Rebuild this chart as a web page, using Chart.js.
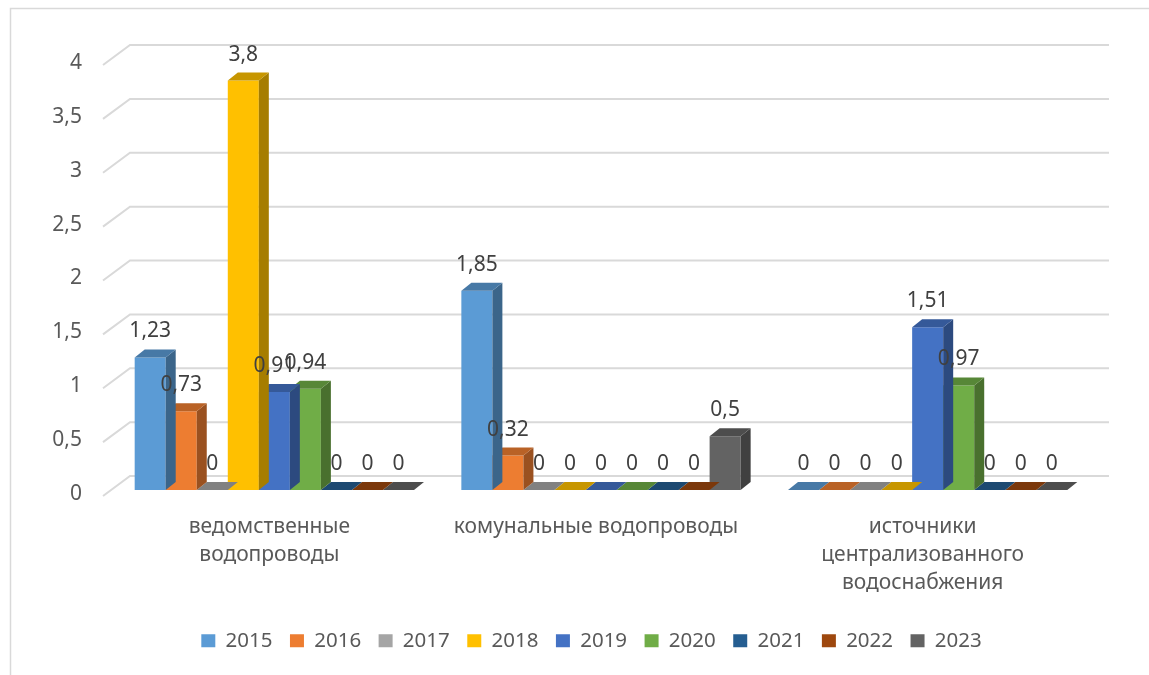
<!DOCTYPE html>
<html>
<head>
<meta charset="utf-8">
<script src="https://cdn.jsdelivr.net/npm/chart.js@4.4.1/dist/chart.umd.min.js"></script>
<style>
  html, body { margin: 0; padding: 0; background: #fff; }
</style>
</head>
<body>
<canvas id="myChart" width="1149" height="675"></canvas>
<script>
// categories and values
const categories = [
  ["ведомственные", "водопроводы"],
  "комунальные водопроводы",
  ["источники", "централизованного", "водоснабжения"],
];
const years = ["2015", "2016", "2017", "2018", "2019", "2020", "2021", "2022", "2023"];
const v2015 = [1.23, 1.85, 0];
const v2016 = [0.73, 0.32, 0];
const v2017 = [0, 0, 0];
const v2018 = [3.8, 0, 0];
const v2019 = [0.91, 0, 1.51];
const v2020 = [0.94, 0, 0.97];
const v2021 = [0, 0, 0];
const v2022 = [0, 0, 0];
const v2023 = [0, 0.5, 0];
const yTickLabels = ["0", "0,5", "1", "1,5", "2", "2,5", "3", "3,5", "4"];

const seriesValues = [v2015, v2016, v2017, v2018, v2019, v2020, v2021, v2022, v2023];
const colors = ["#5b9bd5", "#ed7d31", "#a5a5a5", "#ffc000", "#4472c4", "#70ad47", "#255e91", "#9e480e", "#636363"];

const DEPTH_X = 10, DEPTH_Y = -8;
const FONT = "'Noto Sans', 'DejaVu Sans', sans-serif";

function shade(hex, f) {
  const n = parseInt(hex.slice(1), 16);
  const r = Math.round(((n >> 16) & 255) * f);
  const g = Math.round(((n >> 8) & 255) * f);
  const b = Math.round((n & 255) * f);
  return "rgb(" + r + "," + g + "," + b + ")";
}

// back wall grid + outer frame
const wallPlugin = {
  id: "wall",
  afterLayout(chart) {
    // legend in the picture sits a bit right of the canvas middle
    chart.legend.left += 46;
    chart.legend.right += 46;
  },
  beforeDraw(chart) {
    const ctx = chart.ctx;
    ctx.save();
    ctx.strokeStyle = "#d9d9d9";
    ctx.lineWidth = 1.5;
    ctx.beginPath();
    ctx.moveTo(10.5, 675);
    ctx.lineTo(10.5, 8.5);
    ctx.lineTo(1149, 8.5);
    ctx.stroke();
    ctx.restore();
  },
  beforeDatasetsDraw(chart) {
    const ctx = chart.ctx;
    const y = chart.scales.y;
    const area = chart.chartArea;
    ctx.save();
    ctx.strokeStyle = "#d9d9d9";
    ctx.lineWidth = 2;
    y.ticks.forEach((t) => {
      const yb = y.getPixelForValue(t.value) - 14;
      ctx.beginPath();
      ctx.moveTo(area.left - 8, yb + 20);
      ctx.lineTo(area.left + 19, yb);
      ctx.lineTo(area.right + 18, yb);
      ctx.stroke();
    });
    ctx.restore();
  },
};

// side and top faces of each bar, then the value labels
const boxPlugin = {
  id: "box3d",
  afterDatasetDraw(chart, args) {
    const ctx = chart.ctx;
    const color = colors[args.index];
    ctx.save();
    args.meta.data.forEach((bar) => {
      const p = bar.getProps(["x", "y", "base", "width"], true);
      const l = p.x - p.width / 2, r = p.x + p.width / 2;
      ctx.fillStyle = shade(color, 0.65);
      ctx.beginPath();
      ctx.moveTo(r, p.y);
      ctx.lineTo(r + DEPTH_X, p.y + DEPTH_Y);
      ctx.lineTo(r + DEPTH_X, p.base + DEPTH_Y);
      ctx.lineTo(r, p.base);
      ctx.closePath();
      ctx.fill();
      ctx.fillStyle = shade(color, 0.78);
      ctx.beginPath();
      ctx.moveTo(l, p.y);
      ctx.lineTo(r, p.y);
      ctx.lineTo(r + DEPTH_X, p.y + DEPTH_Y);
      ctx.lineTo(l + DEPTH_X, p.y + DEPTH_Y);
      ctx.closePath();
      ctx.fill();
    });
    ctx.restore();
  },
  afterDatasetsDraw(chart) {
    const ctx = chart.ctx;
    ctx.save();
    ctx.font = "21px " + FONT;
    ctx.fillStyle = "#404040";
    ctx.textAlign = "center";
    ctx.textBaseline = "middle";
    chart.data.datasets.forEach((ds, i) => {
      chart.getDatasetMeta(i).data.forEach((bar, j) => {
        const txt = String(ds.data[j]).replace(".", ",");
        ctx.fillText(txt, bar.x, bar.y - 26);
      });
    });
    ctx.restore();
  },
};

var ctx = document.getElementById("myChart").getContext("2d");
var myChart = new Chart(ctx, {
  type: "bar",
  data: {
    labels: categories,
    datasets: years.map((yr, i) => ({
      label: yr,
      data: seriesValues[i],
      backgroundColor: colors[i],
      borderWidth: 0,
      categoryPercentage: 0.855,
      barPercentage: 1.0,
    })),
  },
  plugins: [wallPlugin, boxPlugin],
  options: {
    responsive: false,
    animation: false,
    layout: { padding: { left: 0, right: 58, top: 59, bottom: 14 } },
    plugins: {
      tooltip: { enabled: false },
      legend: {
        position: "bottom",
        labels: {
          boxWidth: 14,
          boxHeight: 13,
          padding: 17.5,
          color: "#595959",
          font: { family: FONT, size: 20.5 },
        },
      },
    },
    scales: {
      x: {
        grid: { display: false, drawTicks: false },
        border: { display: false },
        ticks: {
          color: "#595959",
          font: { family: FONT, size: 21, lineHeight: 1.33 },
          padding: 23,
          labelOffset: -5,
          maxRotation: 0,
          autoSkip: false,
        },
        afterFit: (scale) => { scale.height = 123; },
      },
      y: {
        min: 0,
        max: 4,
        grid: { display: false, drawTicks: false },
        border: { display: false },
        ticks: {
          stepSize: 0.5,
          color: "#595959",
          font: { family: FONT, size: 21 },
          padding: 29,
          labelOffset: 4,
          callback: (v, i) => yTickLabels[i],
        },
        afterFit: (scale) => { scale.width = 111; },
      },
    },
  },
});
</script>
</body>
</html>
